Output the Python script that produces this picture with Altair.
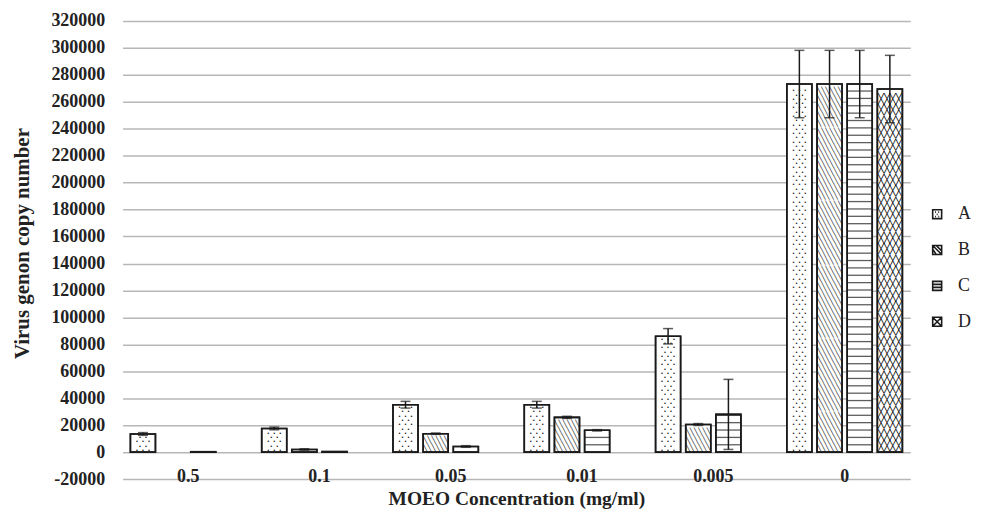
import altair as alt
import pandas as pd

# ---------------- data ----------------
categories = ["0.5", "0.1", "0.05", "0.01", "0.005", "0"]
series = ["A", "B", "C", "D"]
values_A = [13500, 17600, 35200, 35200, 86000, 273200]
errors_A = [1000, 1000, 2500, 2500, 5700, 25000]
values_B = [0, 2000, 13700, 25800, 20500, 273200]
errors_B = [0, 500, 500, 800, 700, 25000]
values_C = [300, 400, 4200, 16200, 28000, 273200]
errors_C = [0, 0, 600, 500, 26000, 25000]
values_D = [0, 0, 0, 0, 0, 269500]
errors_D = [0, 0, 0, 0, 0, 25000]
y_ticks = list(range(-20000, 320001, 20000))

rows = []
for s, vals, errs in zip(series,
                         [values_A, values_B, values_C, values_D],
                         [errors_A, errors_B, errors_C, errors_D]):
    for c, v, e in zip(categories, vals, errs):
        rows.append({"conc": c, "series": s, "value": v, "err": e})
df = pd.DataFrame(rows)

# ---------------- layout / style ----------------
W, H = 791, 460
Y_MIN, Y_MAX = -20000, 320000
UPP = (Y_MAX - Y_MIN) / H          # data units per pixel
SERIF = "Liberation Serif"
INK = "#1a1a1a"

x_enc = alt.X("conc:N", sort=categories,
              scale=alt.Scale(paddingInner=0.12, paddingOuter=0.06),
              axis=alt.Axis(title="MOEO Concentration (mg/ml)", labelAngle=0,
                            domain=False, ticks=False, tickSize=0,
                            labelBaseline="alphabetic", labelPadding=2,
                            labelFont=SERIF, labelFontWeight="bold",
                            labelFontSize=18, labelColor="#222",
                            titleFont=SERIF, titleFontWeight="bold",
                            titleFontSize=19.5, titleColor="#222",
                            titlePadding=5))
xo_enc = alt.XOffset("series:N", sort=series,
                     scale=alt.Scale(paddingInner=0.17, paddingOuter=0))
y_scale = alt.Scale(domain=[Y_MIN, Y_MAX], nice=False, zero=False)
y_axis = alt.Axis(values=y_ticks, grid=True,
                  labelExpr="datum.value < 0 ? '-' + abs(datum.value) : '' + datum.value",
                  gridColor="#b7b7b7", gridWidth=1.5,
                  domain=False, ticks=False, labelPadding=18,
                  labelFont=SERIF, labelFontWeight="bold",
                  labelFontSize=18, labelColor="#222",
                  titleFont=SERIF, titleFontWeight="bold",
                  titleFontSize=21, titleColor="#222",
                  titlePadding=18, titleY=223)
Y_TITLE = "Virus genon copy number"


def yq(field):
    return alt.Y(field, scale=y_scale, title=Y_TITLE, axis=y_axis)


base = alt.Chart(df)

bars = base.mark_bar(fill="white", stroke=INK, strokeWidth=1.6).encode(
    x=x_enc, xOffset=xo_enc, y=yq("value:Q"),
).transform_filter("datum.value > 0")

# ---- fill patterns (rows generated from each bar's own value) ----
STEP_A = 4.3 * UPP
STEP_B = 8.15 * UPP
STEP_C = 7.4 * UPP
STEP_D = 11.64 * UPP

dots = base.transform_filter("datum.series == 'A'").transform_calculate(
    k=f"sequence(0, floor(datum.value / {STEP_A}))"
).transform_flatten(["k"]).transform_calculate(
    py=f"(datum.k + 0.5) * {STEP_A}",
    t="datum.k % 2 == 0 ? '\u2022  \u2022  \u2022' : '\u2022  \u2022'"
).mark_text(font="DejaVu Sans Mono", fontSize=5, opacity=0.99,
            align="center", baseline="middle", color="#111").encode(
    x=x_enc, xOffset=xo_enc, y=yq("py:Q"), text="t:N")

diag = base.transform_filter("datum.series == 'B'").transform_calculate(
    k=f"sequence(0, floor(datum.value / {STEP_B}))"
).transform_flatten(["k"]).transform_calculate(
    py=f"(datum.k + 0.5) * {STEP_B}"
).mark_text(font="DejaVu Sans Mono", fontSize=7, fontWeight="bold",
            opacity=0.99, align="center", baseline="middle", color="#000",
            text="\u2572" * 6).encode(
    x=x_enc, xOffset=xo_enc, y=yq("py:Q"))

hlines = base.transform_filter("datum.series == 'C'").transform_calculate(
    k=f"sequence(1, ceil(datum.value / {STEP_C}))"
).transform_flatten(["k"]).transform_calculate(
    py=f"datum.k * {STEP_C}"
).mark_tick(thickness=1.3, size=25, color=INK).encode(
    x=x_enc, xOffset=xo_enc, y=yq("py:Q"))

cross = base.transform_filter("datum.series == 'D'").transform_calculate(
    k=f"sequence(0, floor(datum.value / {STEP_D}))"
).transform_flatten(["k"]).transform_calculate(
    py=f"(datum.k + 0.5) * {STEP_D}"
).mark_text(font="DejaVu Sans Mono", fontSize=10, fontWeight="bold",
            opacity=0.99, align="center", baseline="middle", color="#000",
            text="\u2573" * 4).encode(
    x=x_enc, xOffset=xo_enc, y=yq("py:Q"))

outline = base.mark_bar(fill=None, fillOpacity=0, stroke=INK,
                        strokeWidth=1.6).encode(
    x=x_enc, xOffset=xo_enc, y=yq("value:Q")
).transform_filter("datum.value > 0")

# ---- error bars ----
err_base = base.transform_filter("datum.err > 0").transform_calculate(
    lo="datum.value - datum.err", hi="datum.value + datum.err")
err_rule = err_base.mark_rule(color=INK, strokeWidth=1.5).encode(
    x=x_enc, xOffset=xo_enc, y=yq("lo:Q"), y2="hi:Q")
err_caps = err_base.transform_fold(["lo", "hi"], as_=["end", "ypos"]).mark_tick(
    color=INK, thickness=1.5, size=10).encode(
    x=x_enc, xOffset=xo_enc, y=yq("ypos:Q"))

# ---- legend (pattern-like symbols) ----
sq = "M-1,-1H1V1H-1Z"
shape_paths = [
    sq + "M-0.45,-0.45h0.2M0.25,-0.45h0.2M-0.1,0.05h0.2M-0.45,0.5h0.2M0.25,0.5h0.2",
    sq + "M-1,-0.2L-0.2,1M-1,-1L1,1M-0.2,-1L1,0.2",
    sq + "M-1,-0.33H1M-1,0.33H1",
    sq + "M-1,-1L1,1M1,-1L-1,1",
]
legend_layer = base.mark_point(opacity=0).encode(
    x=x_enc, xOffset=xo_enc, y=yq("value:Q"),
    shape=alt.Shape("series:N", sort=series,
                    scale=alt.Scale(domain=series, range=shape_paths),
                    legend=alt.Legend(title=None, orient="none",
                                      legendX=809, legendY=185, padding=0,
                                      symbolSize=81, symbolStrokeWidth=1.6,
                                      symbolStrokeColor=INK,
                                      symbolFillColor="white",
                                      symbolOpacity=1, rowPadding=18,
                                      labelOffset=12, labelFont=SERIF,
                                      labelFontSize=18, labelColor="#222")))

chart = alt.layer(bars, dots, diag, hlines, cross, outline, err_rule,
                  err_caps, legend_layer).properties(
    width=W, height=H,
    autosize=alt.AutoSizeParams(type="none"),
    padding={"left": 115, "top": 12, "right": 66, "bottom": 30},
    background="white",
).configure_view(stroke=None)

chart.save("out.html", embed_options={"renderer": "svg", "actions": False})
